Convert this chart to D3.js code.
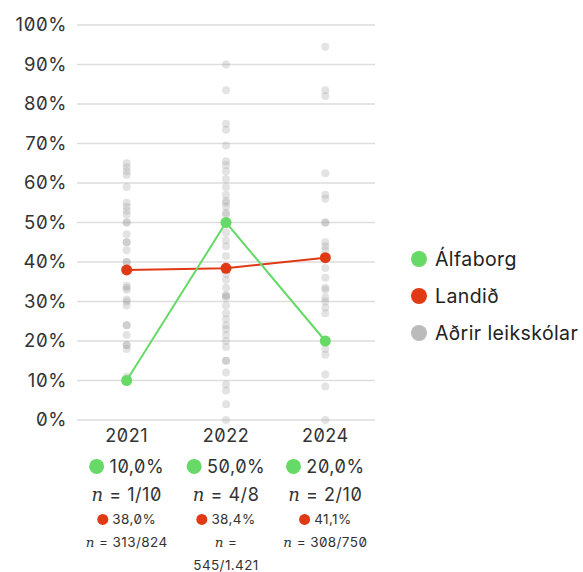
<!DOCTYPE html>
<html lang="is">
<head>
<meta charset="utf-8">
<script src="https://cdn.jsdelivr.net/npm/d3@7"></script>
<style>
  html, body { margin: 0; padding: 0; background: #fff; }
  svg { display: block; font-family: Inter, "Noto Sans", sans-serif; font-feature-settings: "zero" 1; }
  .ital { font-family: "DejaVu Serif", "Liberation Serif", serif; font-style: italic; }
</style>
</head>
<body>
<svg id="chart" width="583" height="572"></svg>
<script>
// Years on the x axis
const years = ["2021", "2022", "2024"];

// Álfaborg: share and counts per year
const alfaborg = [0.100, 0.500, 0.200];
const alfaNum = [1, 4, 2];
const alfaDen = [10, 8, 10];

// Landið (national): share and counts per year
const landid = [0.380, 0.384, 0.411];
const landNum = [313, 545, 308];
const landDen = [824, 1421, 750];

// Other preschools, one value per school
const others2021 = [0.65, 0.64, 0.63, 0.62, 0.59, 0.55, 0.54, 0.53, 0.52, 0.50, 0.50, 0.47, 0.45, 0.45,
  0.43, 0.40, 0.40, 0.34, 0.335, 0.33, 0.305, 0.30, 0.29, 0.24, 0.24, 0.215, 0.19, 0.19, 0.18, 0.11];
const others2022 = [0.90, 0.835, 0.75, 0.735, 0.695, 0.655, 0.645, 0.63, 0.61, 0.59, 0.57, 0.555, 0.55,
  0.54, 0.525, 0.52, 0.50, 0.475, 0.455, 0.44, 0.415, 0.39, 0.37, 0.355, 0.335, 0.315, 0.315, 0.31,
  0.29, 0.27, 0.255, 0.24, 0.23, 0.215, 0.20, 0.185, 0.15, 0.15, 0.12, 0.09, 0.075, 0.04, 0.0];
const others2024 = [0.945, 0.835, 0.82, 0.625, 0.57, 0.56, 0.50, 0.50, 0.45, 0.44, 0.43, 0.385, 0.36,
  0.335, 0.33, 0.31, 0.30, 0.285, 0.27, 0.18, 0.165, 0.115, 0.085, 0.0];
const others = [others2021, others2022, others2024];

// Axis tick labels
const yTicks = [0, 0.1, 0.2, 0.3, 0.4, 0.5, 0.6, 0.7, 0.8, 0.9, 1.0];

// Legend entries
const legendLabels = ["Álfaborg", "Landið", "Aðrir leikskólar"];

const green = "#66d966";
const red = "#e03a15";
const grey = "#bbbbbb";

const locale = d3.formatLocale({ decimal: ",", thousands: ".", grouping: [3], currency: ["", " kr."] });
const pct0 = locale.format(".0%");
const pct1 = locale.format(".1%");
const num = locale.format(",d");

const svg = d3.select("#chart");

const x = d3.scaleBand().domain(years).range([77, 375]).padding(0);
const y = d3.scaleLinear().domain([0, 1]).range([420, 25]);
const cx = d => x(d) + x.bandwidth() / 2;

// Horizontal grid
svg.append("g")
  .selectAll("line")
  .data(yTicks)
  .join("line")
  .attr("x1", 77).attr("x2", 375)
  .attr("y1", d => y(d)).attr("y2", d => y(d))
  .attr("stroke", "#dddddd").attr("stroke-width", 1.5);

// Y axis labels
const yAxis = d3.axisLeft(y).tickValues(yTicks).tickFormat(pct0).tickSize(0).tickPadding(10);
svg.append("g")
  .attr("transform", "translate(77,0)")
  .call(yAxis)
  .call(g => g.select(".domain").remove())
  .call(g => g.selectAll("text")
    .attr("font-size", 18.5)
    .attr("letter-spacing", 0.6)
    .attr("font-family", "Inter, sans-serif")
    .attr("fill", "#333"));

// Other schools
years.forEach((yr, i) => {
  svg.append("g")
    .selectAll("circle")
    .data(others[i])
    .join("circle")
    .attr("cx", cx(yr))
    .attr("cy", d => y(d))
    .attr("r", 4)
    .attr("fill", "#999")
    .attr("fill-opacity", 0.28);
});

// Lines and points for Landið, then Álfaborg on top
const line = d3.line().x((d, i) => cx(years[i])).y(d => y(d));
[[landid, red], [alfaborg, green]].forEach(([vals, col]) => {
  svg.append("path")
    .datum(vals)
    .attr("d", line)
    .attr("fill", "none")
    .attr("stroke", col)
    .attr("stroke-width", 2);
  svg.append("g")
    .selectAll("circle")
    .data(vals)
    .join("circle")
    .attr("cx", (d, i) => cx(years[i]))
    .attr("cy", d => y(d))
    .attr("r", 5.5)
    .attr("fill", col);
});

// Helper: a dot followed by text, centred as a group
function dotLabel(g, xc, yBase, r, col, text, size) {
  const t = g.append("text")
    .attr("y", yBase)
    .attr("font-size", size)
    .attr("letter-spacing", size * 0.03)
    .attr("fill", "#333")
    .text(text);
  const w = t.node().getComputedTextLength();
  const gap = size * 0.3;
  const total = 2 * r + gap + w;
  const left = xc - total / 2;
  t.attr("x", left + 2 * r + gap);
  g.append("circle")
    .attr("cx", left + r)
    .attr("cy", yBase - size * 0.34)
    .attr("r", r)
    .attr("fill", col);
}

// Helper: italic n followed by " = a/b"
function nLabel(g, xc, yBase, size, rest) {
  const t = g.append("text")
    .attr("x", xc)
    .attr("y", yBase)
    .attr("text-anchor", "middle")
    .attr("font-size", size)
    .attr("letter-spacing", size * 0.03)
    .attr("fill", "#333");
  t.append("tspan").attr("class", "ital").text("n");
  t.append("tspan").text(rest);
}

// Labels under each year
years.forEach((yr, i) => {
  const g = svg.append("g");
  const xc = cx(yr);
  g.append("text")
    .attr("x", xc).attr("y", 442)
    .attr("text-anchor", "middle")
    .attr("font-size", 18)
    .attr("letter-spacing", 0.5)
    .attr("fill", "#333")
    .text(yr);
  dotLabel(g, xc, 472.5, 7.5, green, pct1(alfaborg[i]), 18);
  nLabel(g, xc, 501, 18, ` = ${alfaNum[i]}/${alfaDen[i]}`);
  dotLabel(g, xc, 524, 5.5, red, pct1(landid[i]), 13.5);
  const frac = `${num(landNum[i])}/${num(landDen[i])}`;
  if (frac.length > 7) {
    nLabel(g, xc, 547, 13.5, " =");
    g.append("text")
      .attr("x", xc).attr("y", 570)
      .attr("text-anchor", "middle")
      .attr("font-size", 13.5)
      .attr("letter-spacing", 0.4)
      .attr("fill", "#333")
      .text(frac);
  } else {
    nLabel(g, xc, 547, 13.5, ` = ${frac}`);
  }
});

// Legend
const legend = svg.append("g")
  .selectAll("g")
  .data(legendLabels)
  .join("g")
  .attr("transform", (d, i) => `translate(419, ${259 + i * 37})`);
legend.append("circle")
  .attr("r", 8)
  .attr("fill", (d, i) => [green, red, grey][i]);
legend.append("text")
  .attr("x", 16)
  .attr("y", 6.5)
  .attr("font-size", 19.5)
  .attr("letter-spacing", 0.4)
  .attr("fill", "#222")
  .text(d => d);
</script>
</body>
</html>
